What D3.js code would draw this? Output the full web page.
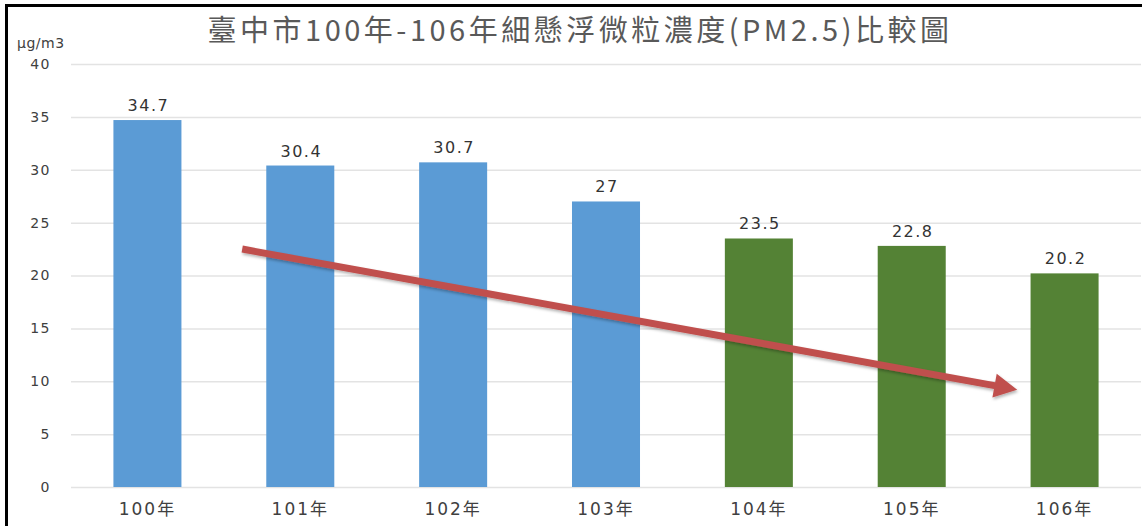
<!DOCTYPE html>
<html>
<head>
<meta charset="utf-8">
<script src="https://cdn.jsdelivr.net/npm/d3@7"></script>
<style>
  body { margin: 0; background: #fff; }
  text { font-family: "DejaVu Sans", "Noto Sans CJK TC", sans-serif; }
</style>
</head>
<body>
<div class="chart"></div>
<script>
// data
var years = ["100年", "101年", "102年", "103年", "104年", "105年", "106年"];
var pm25 = [34.7, 30.4, 30.7, 27, 23.5, 22.8, 20.2];
var barGroup = ["old", "old", "old", "old", "new", "new", "new"];
var yTicks = [0, 5, 10, 15, 20, 25, 30, 35, 40];
var titleText = "臺中市100年-106年細懸浮微粒濃度(PM2.5)比較圖";
var unitText = "μg/m3";
// trend arrow, in data terms: [category, offset in bands, value]
var trendFrom = ["101年", -0.38, 22.5];
var trendTo = ["106年", -0.31, 9.2];

var W = 1142, H = 526;
var margin = {top: 64, right: 1, bottom: 39, left: 71},
    width = W - margin.left - margin.right,
    height = H - margin.top - margin.bottom;

var colors = {old: "#5b9bd5", new: "#548235"};

var svg = d3.select(".chart").append("svg")
    .attr("width", W)
    .attr("height", H);

// frame lines (top + left)
svg.append("line").attr("x1", 5).attr("x2", W).attr("y1", 5.5).attr("y2", 5.5)
    .attr("stroke", "#000").attr("stroke-width", 3);
svg.append("line").attr("x1", 6.5).attr("x2", 6.5).attr("y1", 4).attr("y2", H)
    .attr("stroke", "#000").attr("stroke-width", 3);

var g = svg.append("g")
    .attr("transform", "translate(" + margin.left + "," + margin.top + ")");

var x = d3.scaleBand()
    .domain(years)
    .range([0, width])
    .paddingInner(0.555)
    .paddingOuter(0.2775);

var y = d3.scaleLinear()
    .domain([0, 40])
    .range([height, 0]);

// gridlines
g.append("g")
    .selectAll("line")
    .data(yTicks)
  .enter().append("line")
    .attr("x1", 0)
    .attr("x2", width)
    .attr("y1", function(d){ return y(d) + 0.5; })
    .attr("y2", function(d){ return y(d) + 0.5; })
    .attr("stroke", "#e3e3e3")
    .attr("stroke-width", 1.5);

// y axis
var yAxis = d3.axisLeft(y).tickValues(yTicks).tickSize(0).tickPadding(20);
var ya = g.append("g").call(yAxis);
ya.select(".domain").remove();
ya.selectAll("text")
    .attr("fill", "#404040")
    .style("font-size", "14px")
    .style("letter-spacing", "1.5px");

// x axis
var xAxis = d3.axisBottom(x).tickSize(0).tickPadding(16);
var xa = g.append("g")
    .attr("transform", "translate(0," + height + ")")
    .call(xAxis);
xa.select(".domain").remove();
xa.selectAll("text")
    .attr("fill", "#404040")
    .style("font-size", "17px")
    .style("letter-spacing", "2px");

// bars
g.selectAll(".bar")
    .data(pm25)
  .enter().append("rect")
    .attr("class", "bar")
    .attr("x", function(d, i){ return x(years[i]); })
    .attr("width", x.bandwidth())
    .attr("y", function(d){ return y(d); })
    .attr("height", function(d){ return height - y(d); })
    .attr("fill", function(d, i){ return colors[barGroup[i]]; });

// value labels
g.selectAll(".val")
    .data(pm25)
  .enter().append("text")
    .attr("class", "val")
    .attr("x", function(d, i){ return x(years[i]) + x.bandwidth() / 2 + 1; })
    .attr("y", function(d){ return y(d) - 9; })
    .attr("text-anchor", "middle")
    .attr("fill", "#333")
    .style("font-size", "16px")
    .style("letter-spacing", "1.5px")
    .text(function(d){ return d; });

// trend arrow
var defs = svg.append("defs");
var f = defs.append("filter").attr("id", "sh").attr("x", "-10%").attr("y", "-50%")
    .attr("width", "120%").attr("height", "200%");
f.append("feDropShadow").attr("dx", 1).attr("dy", 2).attr("stdDeviation", 1.5)
    .attr("flood-color", "#000").attr("flood-opacity", 0.3);

function px(p){ return x(p[0]) + x.bandwidth() / 2 + p[1] * x.step(); }
var x1 = px(trendFrom), y1 = y(trendFrom[2]),
    x2 = px(trendTo), y2 = y(trendTo[2]);
var ang = Math.atan2(y2 - y1, x2 - x1);
var headLen = 23, headW = 12, lineW = 3.5;
var bx = x2 - headLen * Math.cos(ang), by = y2 - headLen * Math.sin(ang);
var nx = -Math.sin(ang), ny = Math.cos(ang);
var arrowPts = [
  [x1 + nx * lineW, y1 + ny * lineW],
  [bx + nx * lineW, by + ny * lineW],
  [bx + nx * headW, by + ny * headW],
  [x2, y2],
  [bx - nx * headW, by - ny * headW],
  [bx - nx * lineW, by - ny * lineW],
  [x1 - nx * lineW, y1 - ny * lineW]
];
g.append("path")
    .attr("d", d3.line()(arrowPts) + "Z")
    .attr("fill", "#c0504d")
    .attr("filter", "url(#sh)");

// title
svg.append("text")
    .attr("x", 580)
    .attr("y", 41)
    .attr("text-anchor", "middle")
    .attr("fill", "#595959")
    .style("font-size", "29px")
    .style("letter-spacing", "3.5px")
    .style("font-family", "'Noto Sans CJK TC', sans-serif")
    .text(titleText);

// unit label
svg.append("text")
    .attr("x", 17)
    .attr("y", 48)
    .attr("fill", "#404040")
    .style("font-size", "14px")
    .style("letter-spacing", "0.5px")
    .text(unitText);
</script>
</body>
</html>
